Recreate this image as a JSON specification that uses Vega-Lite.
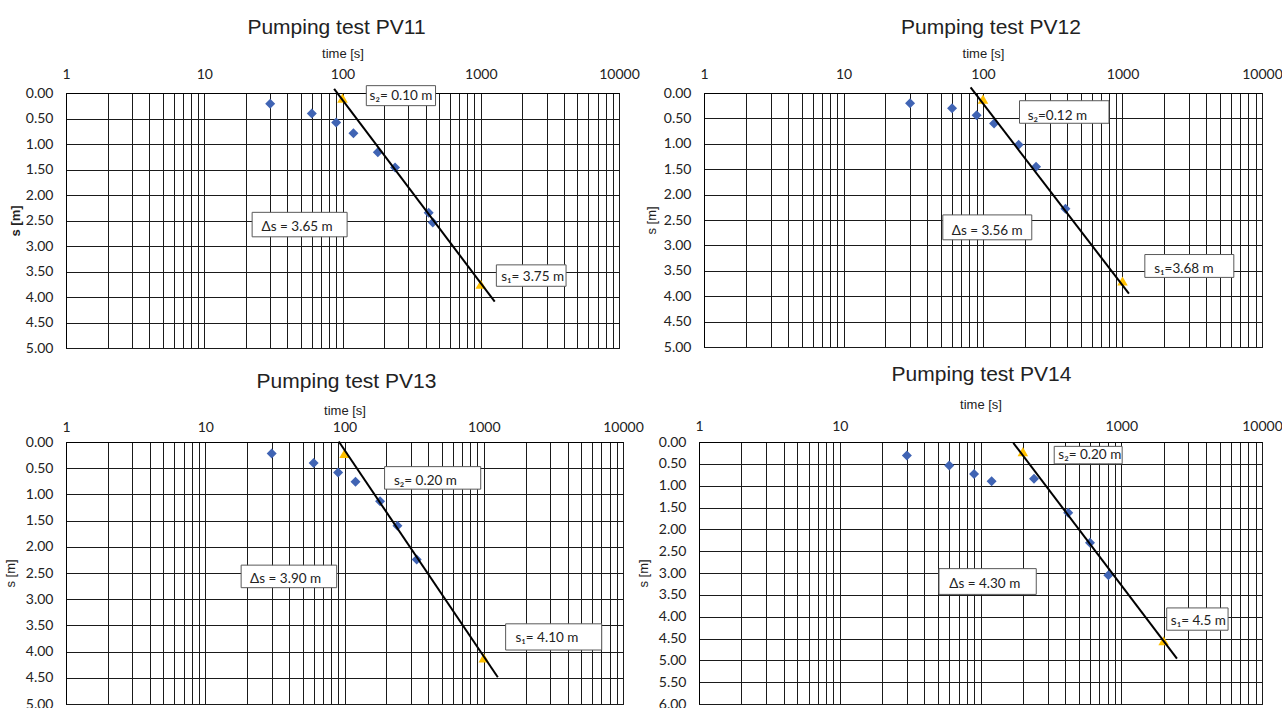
{
  "$schema": "https://vega.github.io/schema/vega-lite/v6.json",
  "background": "white",
  "padding": {"left": 3, "top": 16, "right": 0, "bottom": 0},
  "spacing": 7,
  "config": {
    "view": {"stroke": "black", "strokeWidth": 1},
    "axis": {
      "grid": true, "gridColor": "#1a1a1a", "gridOpacity": 1, "gridWidth": 1,
      "domainColor": "black", "ticks": false, "tickSize": 0,
      "labelFont": "Lato", "labelFontSize": 14, "labelColor": "#222",
      "labelFlush": false, "labelOverlap": false,
      "titleFont": "Liberation Sans", "titleFontSize": 13, "titleFontWeight": "normal", "titleColor": "#222"
    },
    "title": {"font": "Liberation Sans", "fontSize": 21, "fontWeight": "normal", "color": "#222"}
  },
  "vconcat": [
    {
      "hconcat": [
        {
          "width": 553, "height": 255,
          "title": {"text": "Pumping test PV11", "dx": -6, "offset": 9},
          "encoding": {
            "x": {"field": "t", "type": "quantitative", "scale": {"type": "log", "domain": [1, 10000], "nice": false},
              "axis": {"orient": "top", "title": "time [s]", "values": [1,2,3,4,5,6,7,8,9,10,20,30,40,50,60,70,80,90,100,200,300,400,500,600,700,800,900,1000,2000,3000,4000,5000,6000,7000,8000,9000,10000], "format": "d", "labelExpr": "indexof([1,10,100,1000,10000], datum.value) >= 0 ? datum.label : ''", "labelPadding": 12, "titlePadding": 7}},
            "y": {"field": "s", "type": "quantitative", "scale": {"domain": [0, 5], "reverse": true, "nice": false, "zero": false},
              "axis": {"title": "s [m]", "titleFontWeight": "bold", "values": [0,0.5,1,1.5,2,2.5,3,3.5,4,4.5,5], "format": ".2f", "labelPadding": 13, "titlePadding": 3}}
          },
          "layer": [
            {"data": {"values": [{"t": 30, "s": 0.21}, {"t": 60, "s": 0.40}, {"t": 90, "s": 0.58}, {"t": 120, "s": 0.79}, {"t": 180, "s": 1.16}, {"t": 240, "s": 1.46}, {"t": 420, "s": 2.35}, {"t": 450, "s": 2.54}]},
             "mark": {"type": "point", "shape": "diamond", "filled": true, "color": "#4064B4", "size": 100, "opacity": 1}},
            {"data": {"values": [{"t": 100, "s": 0.10}, {"t": 1000, "s": 3.75}]},
             "mark": {"type": "point", "shape": "triangle-up", "filled": true, "color": "#FFC000", "size": 110, "opacity": 1}},
            {"data": {"values": [{"t": 87, "s": -0.08}, {"t": 1262, "s": 4.09}]},
             "mark": {"type": "line", "color": "black", "strokeWidth": 2}},
            {"data": {"values": [{"t": 148.7, "t2": 471, "s": -0.144, "s2": 0.248}, {"t": 22.2, "t2": 108, "s": 2.34, "s2": 2.82}, {"t": 1297, "t2": 4140, "s": 3.37, "s2": 3.79}]},
             "mark": {"type": "rect", "fill": "white", "stroke": "#595959", "strokeWidth": 1},
             "encoding": {"x2": {"field": "t2"}, "y2": {"field": "s2"}}},
            {"data": {"values": [{"t": 157, "s": 0.13, "label": "s₂= 0.10 m"}, {"t": 26.0, "s": 2.71, "label": "Δs = 3.65 m"}, {"t": 1406, "s": 3.69, "label": "s₁= 3.75 m"}]},
             "mark": {"type": "text", "align": "left", "baseline": "alphabetic", "font": "Lato", "fontSize": 13.5, "color": "#222"},
             "encoding": {"text": {"field": "label"}}}
          ]
        },
        {
          "width": 558, "height": 254,
          "title": {"text": "Pumping test PV12", "dx": 8, "offset": 9},
          "encoding": {
            "x": {"field": "t", "type": "quantitative", "scale": {"type": "log", "domain": [1, 10000], "nice": false},
              "axis": {"orient": "top", "title": "time [s]", "values": [1,2,3,4,5,6,7,8,9,10,20,30,40,50,60,70,80,90,100,200,300,400,500,600,700,800,900,1000,2000,3000,4000,5000,6000,7000,8000,9000,10000], "format": "d", "labelExpr": "indexof([1,10,100,1000,10000], datum.value) >= 0 ? datum.label : ''", "labelPadding": 12, "titlePadding": 7}},
            "y": {"field": "s", "type": "quantitative", "scale": {"domain": [0, 5], "reverse": true, "nice": false, "zero": false},
              "axis": {"title": "s [m]", "values": [0,0.5,1,1.5,2,2.5,3,3.5,4,4.5,5], "format": ".2f", "labelPadding": 13, "titlePadding": 5}}
          },
          "layer": [
            {"data": {"values": [{"t": 30, "s": 0.20}, {"t": 60, "s": 0.30}, {"t": 90, "s": 0.44}, {"t": 120, "s": 0.60}, {"t": 180, "s": 1.02}, {"t": 240, "s": 1.45}, {"t": 390, "s": 2.28}]},
             "mark": {"type": "point", "shape": "diamond", "filled": true, "color": "#4064B4", "size": 100, "opacity": 1}},
            {"data": {"values": [{"t": 100, "s": 0.12}, {"t": 1000, "s": 3.70}]},
             "mark": {"type": "point", "shape": "triangle-up", "filled": true, "color": "#FFC000", "size": 110, "opacity": 1}},
            {"data": {"values": [{"t": 81.5, "s": -0.11}, {"t": 1112, "s": 3.95}]},
             "mark": {"type": "line", "color": "black", "strokeWidth": 2}},
            {"data": {"values": [{"t": 182.7, "t2": 800, "s": 0.152, "s2": 0.596}, {"t": 51.5, "t2": 223.7, "s": 2.40, "s2": 2.89}, {"t": 1446, "t2": 6281, "s": 3.18, "s2": 3.63}]},
             "mark": {"type": "rect", "fill": "white", "stroke": "#595959", "strokeWidth": 1},
             "encoding": {"x2": {"field": "t2"}, "y2": {"field": "s2"}}},
            {"data": {"values": [{"t": 209, "s": 0.53, "label": "s₂=0.12 m"}, {"t": 59.7, "s": 2.79, "label": "Δs = 3.56 m"}, {"t": 1689, "s": 3.55, "label": "s₁=3.68 m"}]},
             "mark": {"type": "text", "align": "left", "baseline": "alphabetic", "font": "Lato", "fontSize": 13.5, "color": "#222"},
             "encoding": {"text": {"field": "label"}}}
          ]
        }
      ],
      "spacing": 85,
      "bounds": "flush"
    },
    {
      "hconcat": [
        {
          "width": 557, "height": 262,
          "title": {"text": "Pumping test PV13", "dx": 2, "offset": 12},
          "encoding": {
            "x": {"field": "t", "type": "quantitative", "scale": {"type": "log", "domain": [1, 10000], "nice": false},
              "axis": {"orient": "top", "title": "time [s]", "values": [1,2,3,4,5,6,7,8,9,10,20,30,40,50,60,70,80,90,100,200,300,400,500,600,700,800,900,1000,2000,3000,4000,5000,6000,7000,8000,9000,10000], "format": "d", "labelExpr": "indexof([1,10,100,1000,10000], datum.value) >= 0 ? datum.label : ''", "labelPadding": 8, "titlePadding": 3}},
            "y": {"field": "s", "type": "quantitative", "scale": {"domain": [0, 5], "reverse": true, "nice": false, "zero": false},
              "axis": {"title": "s [m]", "values": [0,0.5,1,1.5,2,2.5,3,3.5,4,4.5,5], "format": ".2f", "labelPadding": 13, "titlePadding": 8}}
          },
          "layer": [
            {"data": {"values": [{"t": 30, "s": 0.22}, {"t": 60, "s": 0.40}, {"t": 90, "s": 0.58}, {"t": 120, "s": 0.76}, {"t": 180, "s": 1.13}, {"t": 240, "s": 1.60}, {"t": 330, "s": 2.24}]},
             "mark": {"type": "point", "shape": "diamond", "filled": true, "color": "#4064B4", "size": 100, "opacity": 1}},
            {"data": {"values": [{"t": 100, "s": 0.22}, {"t": 1000, "s": 4.12}]},
             "mark": {"type": "point", "shape": "triangle-up", "filled": true, "color": "#FFC000", "size": 110, "opacity": 1}},
            {"data": {"values": [{"t": 91, "s": -0.01}, {"t": 1262, "s": 4.49}]},
             "mark": {"type": "line", "color": "black", "strokeWidth": 2}},
            {"data": {"values": [{"t": 194, "t2": 951, "s": 0.47, "s2": 0.90}, {"t": 18.1, "t2": 87.9, "s": 2.35, "s2": 2.78}, {"t": 1436, "t2": 7033, "s": 3.47, "s2": 3.97}]},
             "mark": {"type": "rect", "fill": "white", "stroke": "#595959", "strokeWidth": 1},
             "encoding": {"x2": {"field": "t2"}, "y2": {"field": "s2"}}},
            {"data": {"values": [{"t": 226.6, "s": 0.82, "label": "s₂= 0.20 m"}, {"t": 21.0, "s": 2.70, "label": "Δs = 3.90 m"}, {"t": 1690, "s": 3.82, "label": "s₁= 4.10 m"}]},
             "mark": {"type": "text", "align": "left", "baseline": "alphabetic", "font": "Lato", "fontSize": 13.5, "color": "#222"},
             "encoding": {"text": {"field": "label"}}}
          ]
        },
        {
          "width": 563, "height": 262,
          "title": {"text": "Pumping test PV14", "dx": 1, "offset": 13},
          "encoding": {
            "x": {"field": "t", "type": "quantitative", "scale": {"type": "log", "domain": [1, 10000], "nice": false},
              "axis": {"orient": "top", "title": "time [s]", "values": [1,2,3,4,5,6,7,8,9,10,20,30,40,50,60,70,80,90,100,200,300,400,500,600,700,800,900,1000,2000,3000,4000,5000,6000,7000,8000,9000,10000], "format": "d", "labelExpr": "indexof([1,10,1000,10000], datum.value) >= 0 ? datum.label : ''", "labelPadding": 9, "titlePadding": 8}},
            "y": {"field": "s", "type": "quantitative", "scale": {"domain": [0, 6], "reverse": true, "nice": false, "zero": false},
              "axis": {"title": "s [m]", "values": [0,0.5,1,1.5,2,2.5,3,3.5,4,4.5,5,5.5,6], "format": ".2f", "labelPadding": 13, "titlePadding": 8}}
          },
          "layer": [
            {"data": {"values": [{"t": 30, "s": 0.31}, {"t": 60, "s": 0.54}, {"t": 90, "s": 0.73}, {"t": 120, "s": 0.90}, {"t": 240, "s": 0.84}, {"t": 420, "s": 1.62}, {"t": 600, "s": 2.31}, {"t": 810, "s": 3.05}]},
             "mark": {"type": "point", "shape": "diamond", "filled": true, "color": "#4064B4", "size": 100, "opacity": 1}},
            {"data": {"values": [{"t": 200, "s": 0.22}, {"t": 2000, "s": 4.55}]},
             "mark": {"type": "point", "shape": "triangle-up", "filled": true, "color": "#FFC000", "size": 110, "opacity": 1}},
            {"data": {"values": [{"t": 171, "s": 0.02}, {"t": 2488, "s": 4.96}]},
             "mark": {"type": "line", "color": "black", "strokeWidth": 2}},
            {"data": {"values": [{"t": 334, "t2": 1015, "s": 0.10, "s2": 0.50}, {"t": 50.7, "t2": 249, "s": 2.90, "s2": 3.49}, {"t": 2104, "t2": 5741, "s": 3.80, "s2": 4.31}]},
             "mark": {"type": "rect", "fill": "white", "stroke": "#595959", "strokeWidth": 1},
             "encoding": {"x2": {"field": "t2"}, "y2": {"field": "s2"}}},
            {"data": {"values": [{"t": 357.5, "s": 0.38, "label": "s₂= 0.20 m"}, {"t": 60, "s": 3.34, "label": "Δs = 4.30 m"}, {"t": 2250, "s": 4.18, "label": "s₁= 4.5 m"}]},
             "mark": {"type": "text", "align": "left", "baseline": "alphabetic", "font": "Lato", "fontSize": 13.5, "color": "#222"},
             "encoding": {"text": {"field": "label"}}}
          ]
        }
      ],
      "spacing": 76,
      "bounds": "flush"
    }
  ]
}
